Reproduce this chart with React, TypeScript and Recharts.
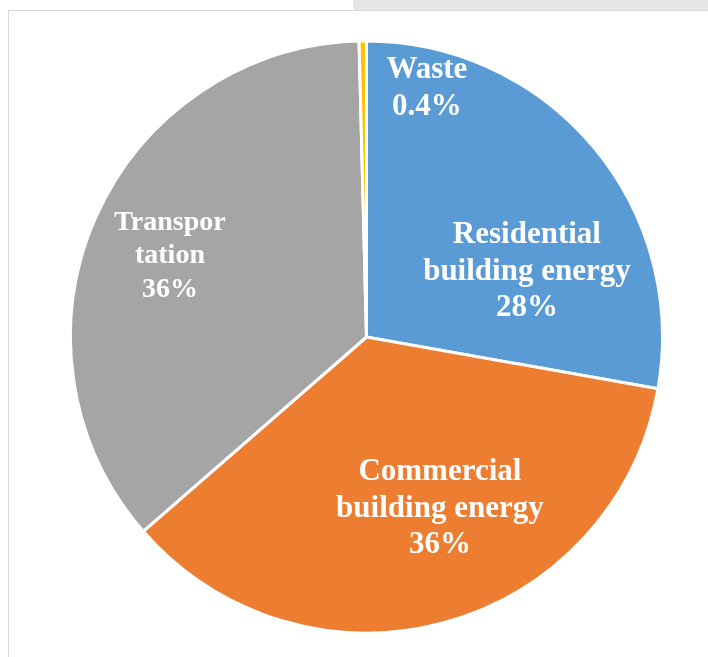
import React from 'react';
import { PieChart, Pie, Cell } from 'recharts';

const categories = ['Residential building energy', 'Commercial building energy', 'Transportation', 'Waste'];
const values = [27.8, 35.8, 36.0, 0.4];
const labelLines = [
  ['Residential', 'building energy', '28%'],
  ['Commercial', 'building energy', '36%'],
  ['Transpor', 'tation', '36%'],
  ['Waste', '0.4%'],
];
const colors = ['#5B9BD5', '#ED7D31', '#A5A5A5', '#FFC000'];

// label anchor (first baseline), as fractions of the outer radius from the centre
const labelAnchors = [
  { fx: 0.542, fy: -0.318, size: 31, lh: 36.7 },
  { fx: 0.248, fy: 0.483, size: 31, lh: 36.7 },
  { fx: -0.664, fy: -0.361, size: 28, lh: 33.3 },
  { fx: 0.204, fy: -0.874, size: 31, lh: 36.7 },
];

const data = categories.map((name, i) => ({ name, value: values[i] }));

const renderLabel = (props: any) => {
  const { cx, cy, outerRadius, index } = props;
  const a = labelAnchors[index];
  const x = cx + a.fx * outerRadius;
  const y = cy + a.fy * outerRadius;
  return (
    <text
      x={x}
      y={y}
      textAnchor="middle"
      fill="#FFFFFF"
      fontFamily="'Liberation Serif', 'Times New Roman', serif"
      fontWeight="bold"
      fontSize={a.size}
    >
      {labelLines[index].map((line, j) => (
        <tspan key={j} x={x} dy={j === 0 ? 0 : a.lh}>
          {line}
        </tspan>
      ))}
    </text>
  );
};

export default function App() {
  return (
    <div>
      <div
        style={{
          position: 'fixed',
          left: 353,
          top: 0,
          width: 355,
          height: 11,
          background: '#E6E6E6',
        }}
      />
      <div
        style={{
          position: 'fixed',
          left: 8,
          top: 10,
          width: 700,
          height: 647,
          borderLeft: '1.5px solid #D9D9D9',
          borderTop: '1.5px solid #D9D9D9',
          boxSizing: 'border-box',
        }}
      />
      <PieChart width={700} height={640} margin={{ top: 0, right: 0, bottom: 0, left: 0 }}>
        <Pie
          data={data}
          dataKey="value"
          nameKey="name"
          cx={358.5}
          cy={329}
          outerRadius={296}
          startAngle={90}
          endAngle={-270}
          stroke="#FFFFFF"
          strokeWidth={3}
          label={renderLabel}
          labelLine={false}
          isAnimationActive={false}
        >
          {data.map((d, i) => (
            <Cell key={d.name} fill={colors[i]} />
          ))}
        </Pie>
      </PieChart>
    </div>
  );
}
